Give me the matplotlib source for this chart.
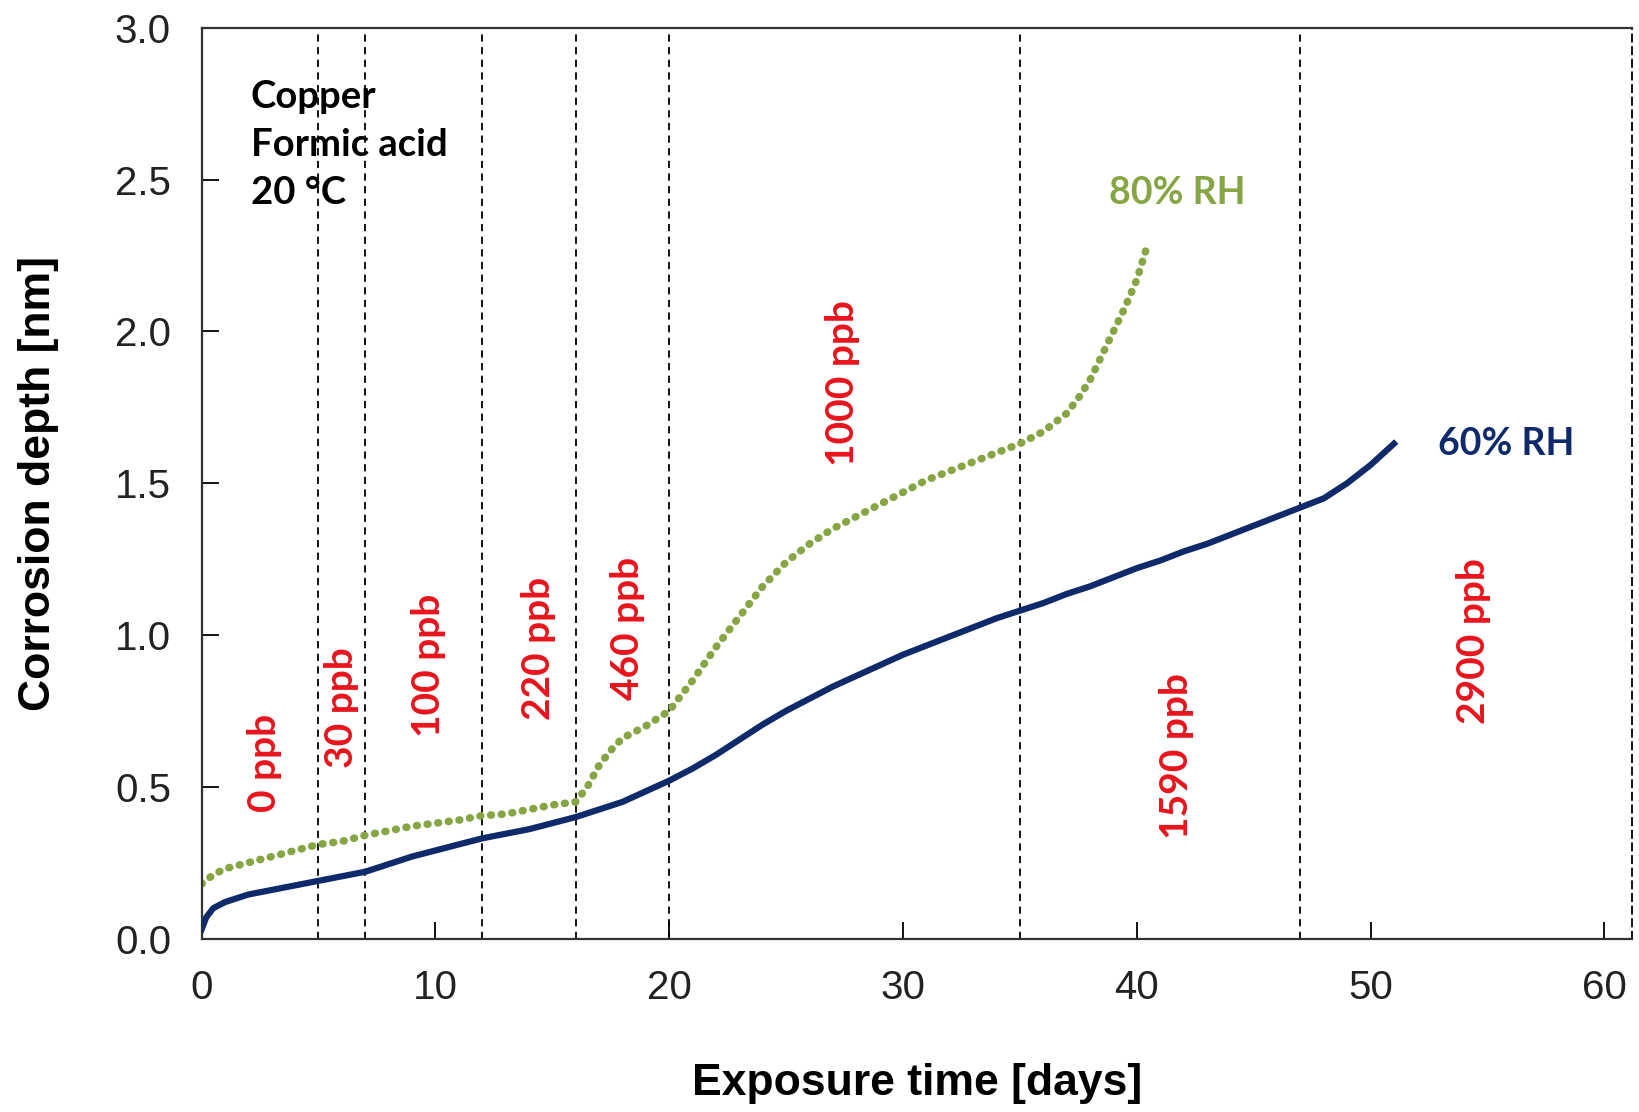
import matplotlib
matplotlib.use("Agg")
import matplotlib.pyplot as plt

# 60 % RH
days_60 = [0, 0.2, 0.5, 1, 2, 3, 4, 5, 6, 7, 8, 9, 10, 11, 12, 13, 14, 15, 16, 17,
           18, 19, 20, 21, 22, 23, 24, 25, 26, 27, 28, 29, 30, 31, 32, 33, 34, 35,
           36, 37, 38, 39, 40, 41, 42, 43, 44, 45, 46, 47, 48, 49, 50, 51]
depth_60 = [0.03, 0.07, 0.10, 0.12, 0.145, 0.16, 0.175, 0.19, 0.205, 0.22, 0.245,
            0.27, 0.29, 0.31, 0.33, 0.345, 0.36, 0.38, 0.40, 0.425, 0.45, 0.485,
            0.52, 0.56, 0.605, 0.655, 0.705, 0.75, 0.79, 0.83, 0.865, 0.90, 0.935,
            0.965, 0.995, 1.025, 1.055, 1.08, 1.105, 1.135, 1.16, 1.19, 1.22,
            1.245, 1.275, 1.30, 1.33, 1.36, 1.39, 1.42, 1.45, 1.50, 1.56, 1.63]

# 80 % RH
days_80 = [0, 0.5, 1, 2, 3, 4, 5, 6, 7, 8, 9, 10, 11, 12, 13, 14, 15, 16, 16.5,
           17, 17.5, 18, 19, 20, 21, 22, 23, 24, 25, 26, 27, 28, 29, 30, 31, 32,
           33, 34, 35, 36, 37, 37.5, 38, 38.5, 39, 39.5, 40, 40.4]
depth_80 = [0.18, 0.21, 0.23, 0.25, 0.27, 0.29, 0.31, 0.32, 0.34, 0.355, 0.37,
            0.38, 0.39, 0.405, 0.41, 0.425, 0.44, 0.45, 0.50, 0.57, 0.62, 0.66,
            0.70, 0.75, 0.85, 0.96, 1.06, 1.16, 1.24, 1.30, 1.35, 1.39, 1.43,
            1.47, 1.51, 1.54, 1.57, 1.60, 1.63, 1.67, 1.73, 1.78, 1.84, 1.92,
            2.00, 2.08, 2.17, 2.27]

# concentration step boundaries (days) and labels
step_days = [5, 7, 12, 16, 20, 35, 47]
conc_labels = ["0 ppb", "30 ppb", "100 ppb", "220 ppb", "460 ppb",
               "1000 ppb", "1590 ppb", "2900 ppb"]
conc_x = [2.7, 6.0, 9.7, 14.4, 18.2, 27.4, 41.7, 54.4]
conc_y = [0.58, 0.76, 0.90, 0.955, 1.02, 1.83, 0.60, 0.98]

BLUE = "#0f2a6b"
GREEN = "#86a543"
RED = "#e8141c"

fig = plt.figure(figsize=(16.39, 11.12), dpi=100)
ax = fig.add_axes([0.123, 0.156, 0.873, 0.819])

for d in step_days:
    ax.axvline(d, color="black", lw=1.3, ls=(0, (4, 3)), zorder=1)

ax.plot(days_60, depth_60, color=BLUE, lw=4.5, zorder=3)
ax.plot(days_80, depth_80, color=GREEN, lw=5.5, ls=(0, (0.1, 1.3)),
        dash_capstyle="round", zorder=2)

for lab, x, y in zip(conc_labels, conc_x, conc_y):
    ax.text(x, y, lab, rotation=90, ha="center", va="center", color=RED,
            fontsize=28, fontweight="bold", family="Lato")

ax.text(2.1, 2.40, "Copper\nFormic acid\n20 °C", ha="left", va="bottom",
        fontsize=27.5, fontweight="bold", family="Lato", linespacing=1.5)
ax.text(38.8, 2.455, "80% RH", color=GREEN, fontsize=27, fontweight="bold",
        family="Lato", va="center")
ax.text(52.9, 1.63, "60% RH", color=BLUE, fontsize=27, fontweight="bold",
        family="Lato", va="center")

ax.set_xlim(0, 61.2)
ax.set_ylim(0, 3.0)
ax.set_xticks([0, 10, 20, 30, 40, 50, 60])
ax.set_yticks([0, 0.5, 1.0, 1.5, 2.0, 2.5, 3.0])
ax.yaxis.set_major_formatter(matplotlib.ticker.FormatStrFormatter("%.1f"))
ax.tick_params(direction="in", length=12, width=1.3, labelsize=29, pad=22)
for lab in ax.get_xticklabels() + ax.get_yticklabels():
    lab.set_family("Liberation Sans")
    lab.set_color("#222222")

for s in ["left", "bottom", "top"]:
    ax.spines[s].set_linewidth(1.6)
    ax.spines[s].set_color("#333333")
ax.spines["right"].set_linestyle((0, (4, 3)))
ax.spines["right"].set_linewidth(1.3)

ax.set_xlabel("Exposure time [days]", fontsize=32, fontweight="bold",
              family="Liberation Sans", labelpad=40)
ax.set_ylabel("Corrosion depth [nm]", fontsize=32, fontweight="bold",
              family="Liberation Sans", labelpad=40)

fig.savefig("out.png", dpi=100)
